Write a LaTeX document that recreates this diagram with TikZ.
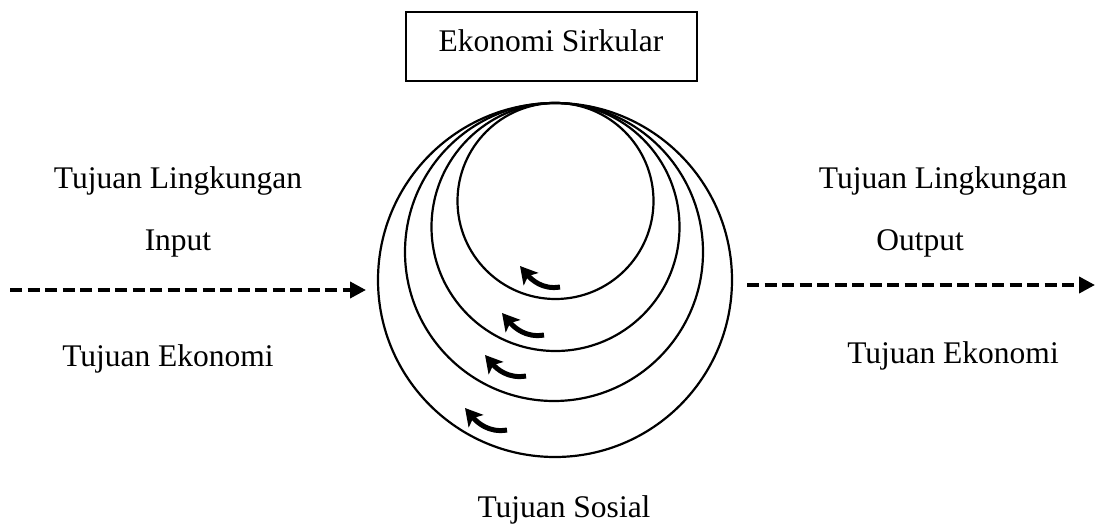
\documentclass[tikz,border=0pt]{standalone}
\usepackage{fontspec}
\setmainfont{Liberation Serif}
\usetikzlibrary{arrows.meta}
\begin{document}
\begin{tikzpicture}[x=1pt,y=-1pt,
  lbl/.style={anchor=base,inner sep=0pt,font=\fontsize{31.5}{36}\selectfont},
  ring/.style={circle,draw,line width=2.2pt,inner sep=0pt},
  flow/.style={line width=3.8pt,dash pattern=on 12pt off 5.5pt,-{Triangle[length=16pt,width=16pt]}},
  swirl/.style={line width=5pt,-{Stealth[length=17pt,width=19pt,inset=4pt]}}]
\useasboundingbox (0,0) rectangle (1095,524);
% title box
\node[draw,line width=1.2pt,minimum width=291pt,minimum height=69pt,inner sep=0pt] (box) at (551.5,46.5) {};
\node[lbl] (title) at (551,52) {Ekonomi Sirkular};
% rings
\node[ring,minimum size=354pt] (r1) at (555,280) {};
\node[ring,minimum size=298pt] (r2) at (554,252) {};
\node[ring,minimum size=248pt] (r3) at (555.5,227) {};
\node[ring,minimum size=196pt] (r4) at (555.5,201) {};
% swirl arrows
\coordinate (a1s) at (560,287); \coordinate (a1e) at (520,266);
\coordinate (a2s) at (544,335); \coordinate (a2e) at (502,313);
\coordinate (a3s) at (526,376); \coordinate (a3e) at (485,355);
\coordinate (a4s) at (507,430); \coordinate (a4e) at (465,408);
\foreach \i in {1,2,3,4}{
  \draw[swirl] (a\i s) to[out=190,in=-50] (a\i e);
}
% flows
\coordinate (inS) at (10,290); \coordinate (inE) at (366,290);
\coordinate (outS) at (747,285); \coordinate (outE) at (1095,285);
\draw[flow] (inS) -- (inE);
\draw[flow] (outS) -- (outE);
% labels
\node[lbl] (lenvL) at (178,189) {Tujuan Lingkungan};
\node[lbl] (inputL) at (178,250) {Input};
\node[lbl] (ekoL) at (168,366) {Tujuan Ekonomi};
\node[lbl] (lenvR) at (943,189) {Tujuan Lingkungan};
\node[lbl] (outputR) at (920,250) {Output};
\node[lbl] (ekoR) at (953,363) {Tujuan Ekonomi};
\node[lbl] (sos) at (564,517) {Tujuan Sosial};
\end{tikzpicture}
\end{document}
